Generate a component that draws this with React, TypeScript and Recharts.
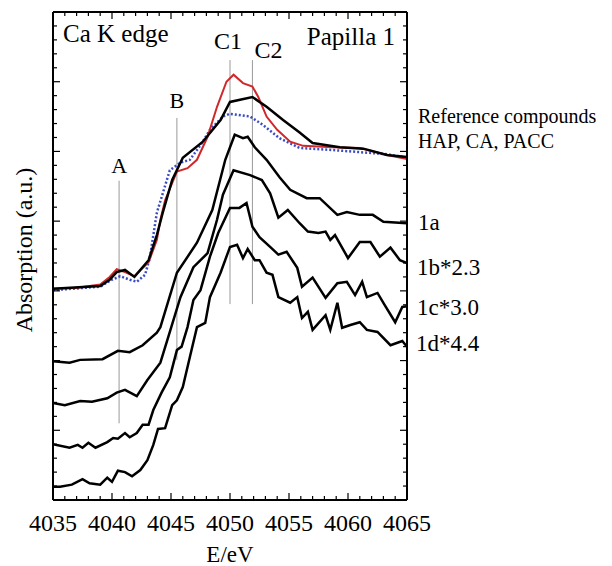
import React from 'react'
import { LineChart, Line, XAxis, YAxis, ReferenceLine } from 'recharts'

const FONT = '"Liberation Serif", "Times New Roman", serif'

// tick positions
const xMajor = [4035, 4040, 4045, 4050, 4055, 4060, 4065]
const xTicks = Array.from({ length: 31 }, (_, i) => 4035 + i)
const yTicks = Array.from({ length: 36 }, (_, i) => Math.round(i * 2) / 10)

// reference compounds (E in eV, absorption in a.u. with offset)
const refRed = [
  { x: 4035.0, y: 3.03 }, { x: 4036.9, y: 3.04 }, { x: 4039.0, y: 3.09 }, { x: 4039.8, y: 3.2 },
  { x: 4040.4, y: 3.31 }, { x: 4041.1, y: 3.27 }, { x: 4041.9, y: 3.21 }, { x: 4043.1, y: 3.41 },
  { x: 4043.8, y: 3.73 }, { x: 4044.1, y: 4.02 }, { x: 4044.5, y: 4.3 }, { x: 4045.5, y: 4.71 },
  { x: 4046.4, y: 4.76 }, { x: 4047.2, y: 4.88 }, { x: 4048.1, y: 5.21 }, { x: 4048.9, y: 5.64 },
  { x: 4049.7, y: 6.0 }, { x: 4050.3, y: 6.1 }, { x: 4051.1, y: 5.98 }, { x: 4051.9, y: 5.93 },
  { x: 4052.4, y: 5.78 }, { x: 4053.1, y: 5.5 }, { x: 4054.0, y: 5.31 }, { x: 4055.1, y: 5.14 },
  { x: 4056.2, y: 5.08 }, { x: 4058.7, y: 5.06 }, { x: 4061.0, y: 5.05 }, { x: 4063.3, y: 4.95 },
  { x: 4065.0, y: 4.89 },
]
const refBlack = [
  { x: 4035.0, y: 3.03 }, { x: 4039.0, y: 3.07 }, { x: 4039.8, y: 3.16 }, { x: 4040.4, y: 3.27 },
  { x: 4041.1, y: 3.3 }, { x: 4041.9, y: 3.2 }, { x: 4043.1, y: 3.44 }, { x: 4043.8, y: 3.8 },
  { x: 4044.3, y: 4.12 }, { x: 4045.1, y: 4.59 }, { x: 4046.0, y: 4.91 }, { x: 4047.7, y: 5.14 },
  { x: 4049.2, y: 5.45 }, { x: 4050.0, y: 5.71 }, { x: 4051.9, y: 5.78 }, { x: 4053.1, y: 5.64 },
  { x: 4054.5, y: 5.45 }, { x: 4055.9, y: 5.27 }, { x: 4057.0, y: 5.12 }, { x: 4059.3, y: 5.06 },
  { x: 4061.3, y: 5.04 }, { x: 4063.3, y: 4.95 }, { x: 4065.0, y: 4.92 },
]
const refBlue = [
  { x: 4035.0, y: 3.01 }, { x: 4039.0, y: 3.06 }, { x: 4040.0, y: 3.16 }, { x: 4040.7, y: 3.21 },
  { x: 4041.5, y: 3.16 }, { x: 4042.1, y: 3.13 }, { x: 4042.8, y: 3.23 }, { x: 4043.2, y: 3.47 },
  { x: 4043.8, y: 4.12 }, { x: 4044.9, y: 4.73 }, { x: 4045.8, y: 4.84 }, { x: 4046.6, y: 4.88 },
  { x: 4047.5, y: 5.09 }, { x: 4048.3, y: 5.31 }, { x: 4049.4, y: 5.5 }, { x: 4050.0, y: 5.54 },
  { x: 4051.7, y: 5.5 }, { x: 4052.8, y: 5.38 }, { x: 4054.2, y: 5.19 }, { x: 4055.9, y: 5.05 },
  { x: 4058.7, y: 5.02 }, { x: 4061.0, y: 4.99 }, { x: 4063.3, y: 4.96 }, { x: 4065.0, y: 4.91 },
]

// papilla 1 samples
const s1a = [
  { x: 4035.0, y: 1.99 }, { x: 4036.4, y: 1.97 }, { x: 4037.3, y: 2.01 }, { x: 4039.2, y: 2.02 },
  { x: 4040.5, y: 2.14 }, { x: 4041.5, y: 2.12 }, { x: 4042.6, y: 2.22 }, { x: 4043.8, y: 2.4 },
  { x: 4044.1, y: 2.48 }, { x: 4045.5, y: 3.26 }, { x: 4047.2, y: 3.69 }, { x: 4048.5, y: 4.16 },
  { x: 4049.6, y: 4.88 }, { x: 4050.4, y: 5.24 }, { x: 4051.1, y: 5.19 }, { x: 4051.5, y: 5.21 },
  { x: 4052.1, y: 5.06 }, { x: 4053.1, y: 4.88 }, { x: 4054.2, y: 4.63 }, { x: 4055.1, y: 4.45 },
  { x: 4056.5, y: 4.33 }, { x: 4057.6, y: 4.33 }, { x: 4059.1, y: 4.09 }, { x: 4059.9, y: 4.13 },
  { x: 4061.0, y: 4.09 }, { x: 4062.1, y: 4.09 }, { x: 4063.0, y: 3.99 }, { x: 4065.0, y: 3.97 },
]
const s1b = [
  { x: 4035.0, y: 1.39 }, { x: 4036.0, y: 1.36 }, { x: 4037.3, y: 1.42 }, { x: 4038.3, y: 1.41 },
  { x: 4039.6, y: 1.46 }, { x: 4040.4, y: 1.54 }, { x: 4041.1, y: 1.58 }, { x: 4042.1, y: 1.49 },
  { x: 4043.0, y: 1.72 }, { x: 4044.1, y: 1.97 }, { x: 4044.7, y: 2.3 }, { x: 4045.8, y: 2.91 },
  { x: 4046.9, y: 3.34 }, { x: 4048.1, y: 3.54 }, { x: 4048.9, y: 4.02 }, { x: 4049.4, y: 4.38 },
  { x: 4050.3, y: 4.73 }, { x: 4051.7, y: 4.66 }, { x: 4052.7, y: 4.59 }, { x: 4053.4, y: 4.4 },
  { x: 4053.6, y: 4.3 }, { x: 4054.1, y: 4.05 }, { x: 4054.9, y: 4.16 }, { x: 4055.9, y: 3.97 },
  { x: 4056.6, y: 3.85 }, { x: 4057.5, y: 3.83 }, { x: 4058.1, y: 3.85 }, { x: 4058.5, y: 3.73 },
  { x: 4058.9, y: 3.8 }, { x: 4060.0, y: 3.47 }, { x: 4061.0, y: 3.7 }, { x: 4061.9, y: 3.7 },
  { x: 4062.7, y: 3.49 }, { x: 4063.6, y: 3.62 }, { x: 4064.4, y: 3.44 }, { x: 4065.0, y: 3.4 },
]
const s1c = [
  { x: 4035.0, y: 0.8 }, { x: 4036.4, y: 0.75 }, { x: 4037.1, y: 0.79 }, { x: 4037.5, y: 0.75 },
  { x: 4038.0, y: 0.82 }, { x: 4038.6, y: 0.75 }, { x: 4039.6, y: 0.83 }, { x: 4040.1, y: 0.89 },
  { x: 4040.5, y: 0.88 }, { x: 4041.1, y: 0.96 }, { x: 4041.5, y: 0.9 }, { x: 4042.1, y: 0.96 },
  { x: 4042.6, y: 1.08 }, { x: 4043.1, y: 1.08 }, { x: 4043.5, y: 1.29 }, { x: 4044.2, y: 1.54 },
  { x: 4044.9, y: 1.76 }, { x: 4045.5, y: 2.15 }, { x: 4045.9, y: 2.2 }, { x: 4046.4, y: 2.48 },
  { x: 4046.9, y: 2.87 }, { x: 4047.5, y: 3.01 }, { x: 4048.3, y: 3.49 }, { x: 4049.0, y: 3.83 },
  { x: 4050.0, y: 4.19 }, { x: 4050.8, y: 4.19 }, { x: 4051.4, y: 4.26 }, { x: 4051.9, y: 3.92 },
  { x: 4052.5, y: 3.77 }, { x: 4053.4, y: 3.63 }, { x: 4054.1, y: 3.52 }, { x: 4054.8, y: 3.56 },
  { x: 4055.7, y: 3.33 }, { x: 4056.1, y: 3.06 }, { x: 4057.0, y: 3.19 }, { x: 4058.1, y: 2.9 },
  { x: 4059.1, y: 3.11 }, { x: 4059.9, y: 3.13 }, { x: 4060.6, y: 2.94 }, { x: 4061.2, y: 3.13 },
  { x: 4061.6, y: 2.91 }, { x: 4062.5, y: 2.97 }, { x: 4063.1, y: 2.8 }, { x: 4064.0, y: 2.55 },
  { x: 4064.6, y: 2.77 }, { x: 4065.0, y: 2.78 },
]
const s1d = [
  { x: 4035.0, y: 0.19 }, { x: 4035.6, y: 0.19 }, { x: 4036.6, y: 0.22 }, { x: 4037.5, y: 0.3 },
  { x: 4038.1, y: 0.24 }, { x: 4039.0, y: 0.22 }, { x: 4039.6, y: 0.32 }, { x: 4040.0, y: 0.26 },
  { x: 4040.5, y: 0.42 }, { x: 4041.1, y: 0.4 }, { x: 4041.7, y: 0.34 }, { x: 4042.4, y: 0.43 },
  { x: 4043.0, y: 0.57 }, { x: 4043.5, y: 0.79 }, { x: 4043.9, y: 1.02 }, { x: 4044.5, y: 1.03 },
  { x: 4045.1, y: 1.36 }, { x: 4045.5, y: 1.43 }, { x: 4046.0, y: 1.62 }, { x: 4046.6, y: 2.05 },
  { x: 4047.2, y: 2.48 }, { x: 4047.9, y: 2.54 }, { x: 4048.3, y: 2.91 }, { x: 4049.2, y: 3.26 },
  { x: 4050.0, y: 3.63 }, { x: 4050.6, y: 3.66 }, { x: 4051.1, y: 3.47 }, { x: 4051.5, y: 3.6 },
  { x: 4052.1, y: 3.44 }, { x: 4052.5, y: 3.44 }, { x: 4053.1, y: 3.26 }, { x: 4053.6, y: 3.23 },
  { x: 4054.1, y: 2.91 }, { x: 4055.1, y: 2.83 }, { x: 4055.7, y: 2.91 }, { x: 4056.1, y: 2.61 },
  { x: 4056.6, y: 2.7 }, { x: 4057.0, y: 2.44 }, { x: 4058.1, y: 2.65 }, { x: 4058.5, y: 2.44 },
  { x: 4059.1, y: 2.83 }, { x: 4059.5, y: 2.47 }, { x: 4060.2, y: 2.51 }, { x: 4061.0, y: 2.55 },
  { x: 4061.6, y: 2.44 }, { x: 4062.5, y: 2.41 }, { x: 4063.6, y: 2.22 }, { x: 4064.6, y: 2.28 },
  { x: 4065.0, y: 2.2 },
]

// feature markers: energy, top and bottom of the guide line
const markers = [
  { name: 'A', x: 4040.6, top: 4.58, bottom: 1.1, offset: 8, dx: 0, size: 22 },
  { name: 'B', x: 4045.5, top: 5.48, bottom: 2.01, offset: 10, dx: 0, size: 22 },
  { name: 'C1', x: 4050.0, top: 6.31, bottom: 2.81, offset: 11, dx: -2, size: 24 },
  { name: 'C2', x: 4051.9, top: 6.31, bottom: 2.81, offset: 2, dx: 16, size: 24 },
]

const isMajorX = (v: number) => xMajor.includes(v)
const isMajorY = (v: number) => Math.abs(v - Math.round(v)) < 1e-6

function BottomTick(props: any) {
  const { x, y, payload } = props
  const major = isMajorX(payload.value)
  return (
    <g>
      <line x1={x} x2={x} y1={y} y2={y - (major ? 7 : 4)} stroke="#000" strokeWidth={1.2} />
      {major && (
        <text x={x} y={y + 31} textAnchor="middle" fontSize={24} fontFamily={FONT} fill="#000">
          {payload.value}
        </text>
      )}
    </g>
  )
}

function TopTick(props: any) {
  const { x, y, payload } = props
  const major = isMajorX(payload.value)
  return <line x1={x} x2={x} y1={y} y2={y + (major ? 7 : 4)} stroke="#000" strokeWidth={1.2} />
}

function LeftTick(props: any) {
  const { x, y, payload } = props
  return <line x1={x} x2={x + (isMajorY(payload.value) ? 7 : 4)} y1={y} y2={y} stroke="#000" strokeWidth={1.2} />
}

function RightTick(props: any) {
  const { x, y, payload } = props
  return <line x1={x} x2={x - (isMajorY(payload.value) ? 7 : 4)} y1={y} y2={y} stroke="#000" strokeWidth={1.2} />
}

const axisLine = { stroke: '#000', strokeWidth: 2 }

export default function App() {
  return (
    <div style={{ position: 'absolute', left: 0, top: 0, width: 612, height: 566, background: '#fff' }}>
      <LineChart width={612} height={566} margin={{ top: 2, right: 195, bottom: 26, left: 33 }}>
        <XAxis
          xAxisId={0}
          dataKey="x"
          type="number"
          domain={[4035, 4065]}
          ticks={xTicks}
          interval={0}
          height={40}
          tickSize={0}
          tickMargin={0}
          axisLine={axisLine}
          tickLine={false}
          tick={<BottomTick />}
          allowDataOverflow
        />
        <XAxis
          xAxisId="top"
          orientation="top"
          dataKey="x"
          type="number"
          domain={[4035, 4065]}
          ticks={xTicks}
          interval={0}
          height={10}
          tickSize={0}
          tickMargin={0}
          axisLine={axisLine}
          tickLine={false}
          tick={<TopTick />}
          allowDataOverflow
        />
        <YAxis
          yAxisId={0}
          type="number"
          domain={[0, 7]}
          ticks={yTicks}
          interval={0}
          width={20}
          tickSize={0}
          tickMargin={0}
          axisLine={axisLine}
          tickLine={false}
          tick={<LeftTick />}
          allowDataOverflow
        />
        <YAxis
          yAxisId="right"
          orientation="right"
          type="number"
          domain={[0, 7]}
          ticks={yTicks}
          interval={0}
          width={10}
          tickSize={0}
          tickMargin={0}
          axisLine={axisLine}
          tickLine={false}
          tick={<RightTick />}
          allowDataOverflow
        />

        {markers.map((m) => (
          <ReferenceLine
            key={m.name}
            segment={[{ x: m.x, y: m.top }, { x: m.x, y: m.bottom }]}
            stroke="#999"
            strokeWidth={1}
            label={{
              value: m.name,
              position: 'top',
              offset: m.offset,
              dx: m.dx,
              fill: '#000',
              fontSize: m.size,
              fontFamily: FONT,
            }}
          />
        ))}

        <Line data={refBlue} dataKey="y" stroke="#3b4bc8" strokeWidth={2.5} strokeDasharray="2 2" dot={false} isAnimationActive={false} />
        <Line data={refRed} dataKey="y" stroke="#d0282a" strokeWidth={2} dot={false} isAnimationActive={false} />
        <Line data={refBlack} dataKey="y" stroke="#000" strokeWidth={2.5} dot={false} isAnimationActive={false} />
        <Line data={s1a} dataKey="y" stroke="#000" strokeWidth={2.5} dot={false} isAnimationActive={false} />
        <Line data={s1b} dataKey="y" stroke="#000" strokeWidth={2.5} dot={false} isAnimationActive={false} />
        <Line data={s1c} dataKey="y" stroke="#000" strokeWidth={2.5} dot={false} isAnimationActive={false} />
        <Line data={s1d} dataKey="y" stroke="#000" strokeWidth={2.5} dot={false} isAnimationActive={false} />
        {/* invisible copy so the mirrored top/right frame axes get drawn */}
        <Line
          xAxisId="top"
          yAxisId="right"
          data={s1a}
          dataKey="y"
          stroke="none"
          dot={false}
          activeDot={false}
          legendType="none"
          isAnimationActive={false}
        />
      </LineChart>

      <svg
        width={612}
        height={566}
        style={{ position: 'absolute', left: 0, top: 0, pointerEvents: 'none' }}
        fontFamily={FONT}
        fill="#000"
      >
        <text x={63} y={42} fontSize={25}>Ca K edge</text>
        <text x={395} y={45} fontSize={25} textAnchor="end">Papilla 1</text>
        <text x={418} y={123} fontSize={20}>Reference  compounds</text>
        <text x={418} y={148} fontSize={20}>HAP, CA, PACC</text>
        <text x={418} y={230} fontSize={23}>1a</text>
        <text x={417} y={275} fontSize={23}>1b*2.3</text>
        <text x={417} y={315} fontSize={23}>1c*3.0</text>
        <text x={416} y={351} fontSize={23}>1d*4.4</text>
        <text x={230} y={562} fontSize={23} textAnchor="middle">E/eV</text>
        <text x={32} y={250} fontSize={24} textAnchor="middle" transform="rotate(-90 32 250)">
          Absorption (a.u.)
        </text>
      </svg>
    </div>
  )
}
